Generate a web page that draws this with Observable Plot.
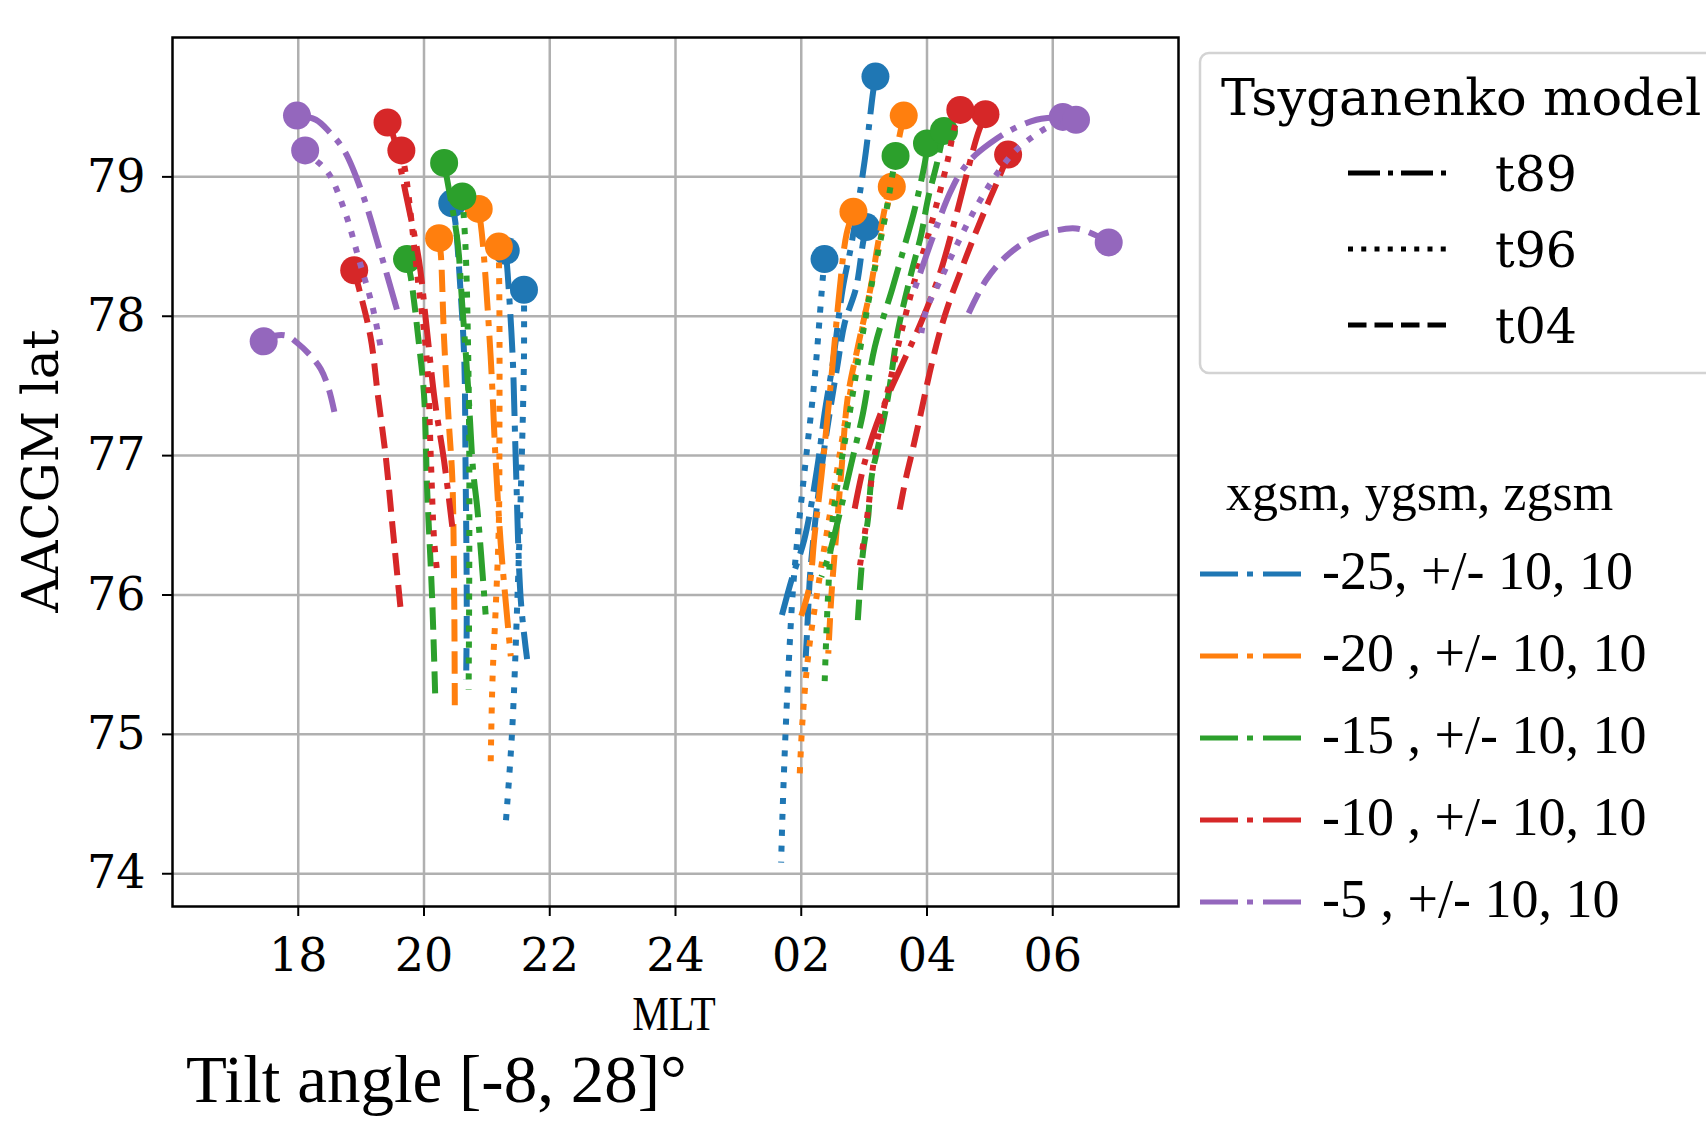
<!DOCTYPE html>
<html><head><meta charset="utf-8">
<script src="https://cdn.jsdelivr.net/npm/d3@7"></script>
<script src="https://cdn.jsdelivr.net/npm/@observablehq/plot@0.6"></script>
<style>
body{margin:0;background:#fff;}
#wrap{position:relative;width:1706px;height:1124px;overflow:hidden;background:#fff;}
.ov{position:absolute;white-space:nowrap;color:#000;line-height:1;}
</style></head><body><div id="wrap"></div>
<script>
// ---- categories ----
const xgsmLabels = ["-25, +/- 10, 10", "-20 , +/- 10, 10", "-15 , +/- 10, 10", "-10 , +/- 10, 10", "-5 , +/- 10, 10"];
const xgsmColors = ["#1f77b4", "#ff7f0e", "#2ca02c", "#d62728", "#9467bd"];
const modelNames = ["t89", "t96", "t04"];
const xTicks = [18, 20, 22, 24, 26, 28, 30];
const xTickLabels = ["18", "20", "22", "24", "02", "04", "06"];
const yTicks = [74, 75, 76, 77, 78, 79];

// ---- traces: [MLT hours (dawn continues past 24), AACGM lat]; first point = dot ----
// dusk side
const duskB_t89 = [[21.30,78.47],[21.33,78.31],[21.41,77.71],[21.46,76.96],[21.54,75.96],[21.64,75.54]];
const duskB_t96 = [[21.59,78.19],[21.59,77.71],[21.55,76.90],[21.48,75.90],[21.40,75.01],[21.30,74.36]];
const duskB_t04 = [[20.45,78.81],[20.50,78.67],[20.58,78.19],[20.64,77.70],[20.66,76.96],[20.68,75.90],[20.67,75.39]];
const duskO_t89 = [[20.87,78.77],[20.93,78.55],[21.06,77.71],[21.14,76.96],[21.22,76.37],[21.30,75.95],[21.38,75.56]];
const duskO_t96 = [[21.19,78.50],[21.20,78.00],[21.20,77.20],[21.19,76.50],[21.14,75.90],[21.09,75.40],[21.06,74.77]];
const duskO_t04 = [[20.24,78.56],[20.27,78.43],[20.32,77.83],[20.40,77.20],[20.45,76.84],[20.48,76.00],[20.49,75.18]];
const duskG_t89 = [[20.32,79.10],[20.40,78.90],[20.53,78.55],[20.61,78.07],[20.70,77.50],[20.78,76.90],[20.85,76.61],[20.98,75.86]];
const duskG_t96 = [[20.61,78.86],[20.66,78.50],[20.70,77.80],[20.72,77.00],[20.72,76.20],[20.71,75.32]];
const duskG_t04 = [[19.73,78.41],[19.79,78.28],[19.92,77.80],[20.00,77.44],[20.05,76.76],[20.13,75.97],[20.18,75.25]];
const duskR_t89 = [[19.42,79.39],[19.50,79.31],[19.71,78.88],[19.92,78.40],[20.03,77.97],[20.17,77.40],[20.32,76.96],[20.45,76.49]];
const duskR_t96 = [[19.64,79.19],[19.71,79.02],[19.89,78.31],[20.05,77.66],[20.11,76.96],[20.16,76.40],[20.21,76.16]];
const duskR_t04 = [[18.89,78.33],[18.96,78.21],[19.15,77.85],[19.27,77.42],[19.39,77.00],[19.50,76.49],[19.63,75.89]];
const duskP_t89 = [[17.98,79.44],[18.28,79.41],[18.50,79.32],[18.73,79.19],[19.02,78.88],[19.28,78.50],[19.60,78.00]];
const duskP_t96 = [[18.11,79.19],[18.28,79.12],[18.49,79.02],[18.75,78.74],[18.97,78.40],[19.18,78.07],[19.31,77.78]];
const duskP_t04 = [[17.45,77.82],[17.63,77.86],[17.82,77.86],[17.98,77.81],[18.17,77.73],[18.36,77.62],[18.49,77.47],[18.59,77.28]];
// dawn side
const dawnB_t89 = [[27.18,79.72],[27.14,79.60],[27.01,79.12],[26.80,78.52],[26.66,78.20],[26.50,77.66],[26.37,77.30],[26.25,76.90],[26.05,76.40],[25.84,76.10],[25.66,75.80]];
const dawnB_t96 = [[26.37,78.41],[26.34,78.26],[26.21,77.54],[26.08,77.00],[25.96,76.50],[25.87,76.05],[25.80,75.50],[25.74,74.90],[25.70,74.40],[25.68,74.08]];
const dawnB_t04 = [[27.03,78.64],[26.98,78.52],[26.87,78.20],[26.69,77.95],[26.58,77.66],[26.45,77.30],[26.32,76.90],[26.15,76.20],[26.10,75.80],[26.06,75.45]];
const dawnO_t89 = [[26.83,78.75],[26.72,78.59],[26.61,78.19],[26.50,77.66],[26.40,77.20],[26.32,76.85],[26.21,76.42],[26.13,76.06],[26.00,75.85]];
const dawnO_t96 = [[27.44,78.93],[27.33,78.71],[27.14,78.28],[26.92,77.80],[26.70,77.25],[26.50,76.70],[26.30,76.15],[26.12,75.60],[26.02,75.10],[25.97,74.65]];
const dawnO_t04 = [[27.63,79.44],[27.43,79.00],[27.22,78.52],[27.11,78.22],[26.90,77.78],[26.74,77.42],[26.64,76.90],[26.55,76.40],[26.48,76.00],[26.43,75.58]];
const dawnG_t89 = [[28.00,79.24],[27.98,79.14],[27.80,78.76],[27.64,78.50],[27.45,78.20],[27.17,77.78],[26.98,77.30],[26.80,76.95],[26.62,76.60],[26.45,76.30],[26.32,76.13]];
const dawnG_t96 = [[27.50,79.15],[27.35,78.75],[27.15,78.30],[26.95,77.80],[26.75,77.25],[26.58,76.80],[26.50,76.54],[26.42,75.94],[26.37,75.34]];
const dawnG_t04 = [[28.27,79.33],[28.17,79.12],[28.01,78.83],[27.91,78.59],[27.75,78.31],[27.54,77.90],[27.38,77.42],[27.22,77.06],[27.12,76.85],[27.06,76.54],[26.98,76.30],[26.90,75.82]];
const dawnR_t89 = [[28.93,79.45],[28.81,79.31],[28.65,79.05],[28.45,78.70],[28.20,78.30],[27.90,77.95],[27.60,77.65],[27.35,77.40],[27.14,77.15],[26.98,76.90],[26.85,76.62]];
const dawnR_t96 = [[28.53,79.48],[28.44,79.36],[28.33,79.12],[28.18,78.85],[28.00,78.55],[27.80,78.25],[27.60,77.90],[27.42,77.55],[27.27,77.25],[27.15,76.95],[27.06,76.60],[26.93,76.20]];
const dawnR_t04 = [[29.29,79.16],[29.15,79.00],[28.94,78.78],[28.73,78.55],[28.50,78.28],[28.36,78.11],[28.20,77.88],[28.04,77.59],[27.90,77.30],[27.75,77.00],[27.67,76.85],[27.56,76.60]];
const dawnP_t89 = [[30.16,79.43],[29.74,79.41],[29.31,79.33],[29.00,79.24],[28.73,79.14],[28.52,79.02],[28.36,78.88],[28.20,78.70],[28.00,78.45],[27.80,78.19]];
const dawnP_t96 = [[30.37,79.41],[29.99,79.37],[29.69,79.29],[29.37,79.17],[29.05,78.98],[28.73,78.74],[28.41,78.45],[28.15,78.20],[27.99,78.05],[27.91,77.88]];
const dawnP_t04 = [[30.89,78.53],[30.64,78.59],[30.37,78.63],[30.00,78.61],[29.63,78.55],[29.26,78.43],[28.94,78.26],[28.65,78.01]];

// trace table built from the arrays above (group index into xgsmLabels, model name)
const traceList = [
  [0,"t89",duskB_t89],[0,"t96",duskB_t96],[0,"t04",duskB_t04],[0,"t89",dawnB_t89],[0,"t96",dawnB_t96],[0,"t04",dawnB_t04],
  [1,"t89",duskO_t89],[1,"t96",duskO_t96],[1,"t04",duskO_t04],[1,"t89",dawnO_t89],[1,"t96",dawnO_t96],[1,"t04",dawnO_t04],
  [2,"t89",duskG_t89],[2,"t96",duskG_t96],[2,"t04",duskG_t04],[2,"t89",dawnG_t89],[2,"t96",dawnG_t96],[2,"t04",dawnG_t04],
  [3,"t89",duskR_t89],[3,"t96",duskR_t96],[3,"t04",duskR_t04],[3,"t89",dawnR_t89],[3,"t96",dawnR_t96],[3,"t04",dawnR_t04],
  [4,"t89",duskP_t89],[4,"t96",duskP_t96],[4,"t04",duskP_t04],[4,"t89",dawnP_t89],[4,"t96",dawnP_t96],[4,"t04",dawnP_t04]
];

// ---- styles ----
const LW = 6;
const dashFor = {t89: [6.4*LW, 1.6*LW, 1*LW, 1.6*LW], t96: [1*LW, 1.65*LW], t04: [3.7*LW, 1.6*LW]};
const LEG_LW = 5;
const legDashFor = {t89: [6.4*LEG_LW, 1.6*LEG_LW, 1*LEG_LW, 1.6*LEG_LW], t96: [1*LEG_LW, 1.65*LEG_LW], t04: [3.7*LEG_LW, 1.6*LEG_LW]};

const rows = [];
traceList.forEach(([g, model, pts], i) => {
  pts.forEach(([x, y], j) => rows.push({x, y, trace: i, group: xgsmLabels[g], gi: g, model, first: j === 0}));
});

const marks = [
  Plot.gridX(xTicks, {stroke: "#b0b0b0", strokeOpacity: 1, strokeWidth: 2.5}),
  Plot.gridY(yTicks, {stroke: "#b0b0b0", strokeOpacity: 1, strokeWidth: 2.5})
];
for (let g = 0; g < xgsmLabels.length; g++) {
  for (const m of modelNames) {
    const sub = rows.filter(d => d.gi === g && d.model === m);
    marks.push(Plot.line(sub, {x: "x", y: "y", z: "trace", stroke: "group", strokeWidth: LW,
      strokeDasharray: dashFor[m].join(","), strokeLinecap: "butt", curve: "catmull-rom"}));
    marks.push(Plot.dot(sub.filter(d => d.first), {x: "x", y: "y", fill: "group", r: 14, stroke: "none"}));
  }
}
marks.push(Plot.frame({stroke: "black", strokeWidth: 2.5}));
marks.push(Plot.axisX(xTicks, {tickFormat: d => xTickLabels[xTicks.indexOf(d)], tickSize: 10, tickPadding: 22, strokeWidth: 2, label: null, fontSize: 46}));
marks.push(Plot.axisY(yTicks, {tickFormat: d => String(d), tickSize: 10, tickPadding: 17, strokeWidth: 2, label: null, fontSize: 46}));

const chart = Plot.plot({
  width: 1706, height: 1124,
  marginLeft: 172, marginRight: 528, marginTop: 37, marginBottom: 218,
  x: {domain: [16, 32]},
  y: {domain: [73.765, 80.0]},
  color: {type: "ordinal", domain: xgsmLabels, range: xgsmColors},
  style: {fontFamily: "DejaVu Serif", fontSize: "46px", color: "black", background: "white"},
  marks
});
const wrap = document.getElementById("wrap");
chart.style.position = "absolute"; chart.style.left = "0"; chart.style.top = "0";
wrap.appendChild(chart);

function ov(text, css) {
  const d = document.createElement("div");
  d.className = "ov"; d.textContent = text;
  Object.assign(d.style, css);
  wrap.appendChild(d);
  return d;
}
// axis labels & caption
ov("AACGM lat", {left: "41px", top: "471px", fontFamily: "DejaVu Serif", fontSize: "50px", transform: "translate(-50%,-50%) rotate(-90deg)"});
ov("MLT", {left: "674px", top: "1014px", fontFamily: "Liberation Serif", fontSize: "48px", transform: "translate(-50%,-50%) scaleX(0.86)"});
ov("Tilt angle [-8, 28]°", {left: "186px", top: "1046px", fontFamily: "Liberation Serif", fontSize: "67px"});

// legend: Tsyganenko model (line styles)
const lg = d3.select(wrap).append("svg").attr("width", 1706).attr("height", 1124)
  .style("position", "absolute").style("left", 0).style("top", 0);
lg.append("rect").attr("x", 1200).attr("y", 53).attr("width", 560).attr("height", 320).attr("rx", 9)
  .attr("fill", "white").attr("fill-opacity", 0.85).attr("stroke", "#d3d3d3").attr("stroke-width", 2.5);
lg.append("text").attr("x", 1221).attr("y", 115).attr("font-family", "DejaVu Serif").attr("font-size", 51).text("Tsyganenko model");
const modelY = [173, 249, 325];
modelNames.forEach((m, i) => {
  lg.append("line").attr("x1", 1348).attr("x2", 1452).attr("y1", modelY[i]).attr("y2", modelY[i])
    .attr("stroke", "black").attr("stroke-width", LEG_LW).attr("stroke-dasharray", legDashFor[m].join(","));
  lg.append("text").attr("x", 1495).attr("y", modelY[i] + 18).attr("font-family", "DejaVu Serif").attr("font-size", 49).text(m);
});
// legend: xgsm, ygsm, zgsm (colours)
lg.append("text").attr("x", 1226).attr("y", 510).attr("font-family", "Liberation Serif").attr("font-size", 52).text("xgsm, ygsm, zgsm");
const groupY = [574, 656, 738, 820, 902];
xgsmLabels.forEach((lab, i) => {
  lg.append("line").attr("x1", 1200).attr("x2", 1302).attr("y1", groupY[i]).attr("y2", groupY[i])
    .attr("stroke", xgsmColors[i]).attr("stroke-width", LEG_LW).attr("stroke-dasharray", "38,9,6,10");
  lg.append("text").attr("x", 1322).attr("y", groupY[i] + 15).attr("font-family", "Liberation Serif").attr("font-size", 54).text(lab);
});
</script></body></html>
